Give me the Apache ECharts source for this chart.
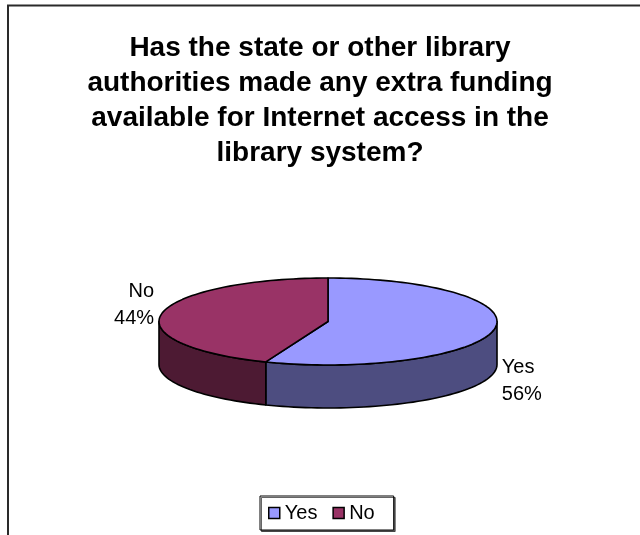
<!DOCTYPE html>
<html><head><meta charset="utf-8">
<script src="https://cdn.jsdelivr.net/npm/echarts@6/dist/echarts.min.js"></script>
<style>html,body{margin:0;padding:0;background:#fff}#main{width:640px;height:535px}</style>
</head><body><div id="main"></div>
<script>
const titleText = 'Has the state or other library\nauthorities made any extra funding\navailable for Internet access in the\nlibrary system?';
const categories = ['Yes', 'No'];
const values = [56, 44];
const topColors = ['#9999FF', '#993366'];
const sideColors = ['#4D4D80', '#4D1A33'];

const FONT = "'Liberation Sans', Arial, sans-serif";
const total = values.reduce((a, b) => a + b, 0);
const starts = values.map((v, i) => values.slice(0, i).reduce((a, b) => a + b, 0));
const PIE = { cx: 328, cy: 321.5, rx: 169, ry: 43.5, depth: 43, labelR: 177, labelRy: 90 };

function makeRender(idx) {
  return function (params, api) {
    const v = api.value(0), start = api.value(1), tot = api.value(2);
    const a1 = start / tot * 2 * Math.PI, a2 = (start + v) / tot * 2 * Math.PI;
    const pt = (a, dy) => [PIE.cx + PIE.rx * Math.sin(a), PIE.cy - PIE.ry * Math.cos(a) + dy];
    const arc = (s, e, dy) => {
      const n = Math.max(2, Math.ceil((e - s) / (2 * Math.PI) * 180));
      const pts = [];
      for (let i = 0; i <= n; i++) pts.push(pt(s + (e - s) * i / n, dy));
      return pts;
    };
    const children = [];
    const w1 = Math.max(a1, Math.PI / 2), w2 = Math.min(a2, 1.5 * Math.PI);
    if (w2 > w1) {
      const topArc = arc(w1, w2, 0), botArc = arc(w1, w2, PIE.depth).reverse();
      children.push({ type: 'polygon', z2: 1, shape: { points: topArc.concat(botArc) },
        style: { fill: sideColors[idx], stroke: '#000', lineWidth: 1.6, lineJoin: 'round' } });
    }
    children.push({ type: 'polygon', z2: 5, shape: { points: [[PIE.cx, PIE.cy]].concat(arc(a1, a2, 0)) },
      style: { fill: topColors[idx], stroke: '#000', lineWidth: 1.6, lineJoin: 'round' } });
    const m = (a1 + a2) / 2, s = Math.sin(m), c = Math.cos(m);
    children.push({ type: 'text', z2: 6, style: {
      text: categories[idx] + '\n' + Math.round(v / tot * 100) + '%',
      x: PIE.cx + PIE.labelR * s,
      y: PIE.cy - PIE.labelRy * c + (c < 0 ? PIE.depth : 0),
      align: s >= 0 ? 'left' : 'right', verticalAlign: 'middle',
      fontSize: 20, fontFamily: FONT, lineHeight: 27, fill: '#000' } });
    return { type: 'group', children };
  };
}

const chart = echarts.init(document.getElementById('main'), null, { renderer: 'canvas' });
chart.setOption({
  animation: false,
  backgroundColor: '#fff',
  title: {
    text: titleText, left: 'center', top: 26,
    textStyle: { fontSize: 28, fontWeight: 'bold', fontFamily: FONT, lineHeight: 35, color: '#000' }
  },
  graphic: [{ type: 'rect', silent: true, z: -1,
    shape: { x: 8, y: 5.5, width: 700, height: 600 },
    style: { fill: 'none', stroke: '#2a2a2a', lineWidth: 2 } }],
  legend: {
    data: categories, left: 260, top: 496, orient: 'horizontal',
    itemWidth: 11, itemHeight: 11, itemGap: 15, padding: [7, 19, 7, 8],
    borderColor: '#000', borderWidth: 1, backgroundColor: '#fff',
    shadowColor: 'rgba(0,0,0,0.6)', shadowOffsetX: 1.5, shadowOffsetY: 1.5, shadowBlur: 0,
    icon: 'rect', selectedMode: false,
    itemStyle: { borderColor: '#000', borderWidth: 1.5 },
    textStyle: { fontSize: 20, fontFamily: FONT, color: '#000' }
  },
  series: categories.map((name, i) => ({
    type: 'custom', name, coordinateSystem: 'none', silent: true,
    renderItem: makeRender(i),
    itemStyle: { color: topColors[i] },
    data: [[values[i], starts[i], total]]
  }))
});
</script></body></html>
